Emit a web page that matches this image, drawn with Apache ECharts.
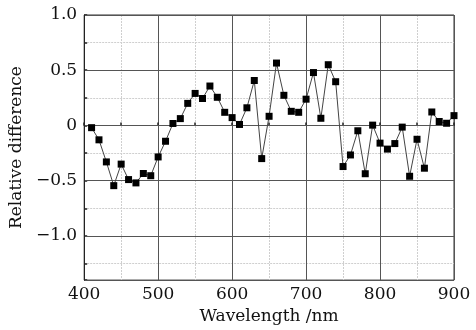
<!DOCTYPE html>
<html>
<head>
<meta charset="utf-8">
<script src="https://cdn.jsdelivr.net/npm/echarts@6/dist/echarts.min.js"></script>
<style>html,body{margin:0;padding:0;background:#fff}#c{width:476px;height:330px}</style>
</head>
<body>
<div id="c"></div>
<script>
const wavelengths = [410, 420, 430, 440, 450, 460, 470, 480, 490, 500,
  510, 520, 530, 540, 550, 560, 570, 580, 590, 600,
  610, 620, 630, 640, 650, 660, 670, 680, 690, 700,
  710, 720, 730, 740, 750, 760, 770, 780, 790, 800,
  810, 820, 830, 840, 850, 860, 870, 880, 890, 900];
const relDiff = [-0.02, -0.13, -0.33, -0.545, -0.35, -0.49, -0.52, -0.435, -0.455, -0.285,
  -0.143, 0.018, 0.062, 0.20, 0.29, 0.244, 0.357, 0.255, 0.119, 0.071,
  0.009, 0.16, 0.407, -0.30, 0.083, 0.565, 0.273, 0.128, 0.119, 0.238,
  0.479, 0.065, 0.55, 0.396, -0.372, -0.267, -0.048, -0.437, 0.003, -0.16,
  -0.214, -0.164, -0.015, -0.46, -0.125, -0.387, 0.122, 0.036, 0.02, 0.089];
const xName = 'Wavelength /nm';
const yName = 'Relative difference';

const FONT = 'DejaVu Serif';
const chart = echarts.init(document.getElementById('c'), null, {renderer: 'canvas'});
chart.setOption({
  animation: false,
  backgroundColor: '#fff',
  grid: {left: 83, right: 22, top: 15, bottom: 45, show: true, borderColor: '#333', borderWidth: 1, backgroundColor: 'transparent'},
  xAxis: {
    type: 'value', min: 400, max: 900, interval: 100,
    name: xName, nameLocation: 'middle', nameGap: 23,
    nameTextStyle: {fontFamily: FONT, fontSize: 17, color: '#111'},
    axisLine: {show: true, lineStyle: {color: '#222', width: 1}},
    axisTick: {show: true, inside: true, length: 3, lineStyle: {color: '#222', width: 1.5}},
    minorTick: {show: true, splitNumber: 2, length: 3, lineStyle: {color: '#222', width: 1.5}},
    axisLabel: {fontFamily: FONT, fontSize: 17, color: '#111', margin: 6},
    splitLine: {show: true, lineStyle: {color: '#555', width: 1}},
    minorSplitLine: {show: true, lineStyle: {color: '#cfcfcf', type: [2, 1], width: 1}}
  },
  yAxis: [{
    type: 'value', min: -1.4, max: 1.0, minInterval: 0.25, maxInterval: 0.25, position: 'left',
    axisLine: {show: false},
    axisTick: {show: true, inside: true, length: 3, lineStyle: {color: '#222', width: 1.5}},
    axisLabel: {show: false},
    splitLine: {show: true, lineStyle: {color: '#cfcfcf', type: [2, 1], width: 1}},
    z: 0
  }, {
    type: 'value', min: -1.4, max: 1.0, minInterval: 0.5, maxInterval: 0.5, position: 'left',
    name: yName, nameLocation: 'middle', nameGap: 58, nameRotate: 90,
    nameTextStyle: {fontFamily: FONT, fontSize: 17, color: '#111'},
    axisLine: {show: true, lineStyle: {color: '#222', width: 1}},
    axisTick: {show: false},
    axisLabel: {fontFamily: FONT, fontSize: 17, color: '#111', margin: 7, showMinLabel: false,
      formatter: v => Math.abs(v) < 1e-9 ? '0' : v.toFixed(1).replace('-', '\u2212')},
    splitLine: {show: true, lineStyle: {color: '#555', width: 1}},
    z: 1
  }],
  series: [{
    type: 'line', yAxisIndex: 1, clip: false,
    data: wavelengths.map((w, i) => [w, relDiff[i]]),
    symbol: 'rect', symbolSize: 7,
    itemStyle: {color: '#000'},
    lineStyle: {color: '#444', width: 1},
    z: 5
  }]
});
</script>
</body>
</html>
